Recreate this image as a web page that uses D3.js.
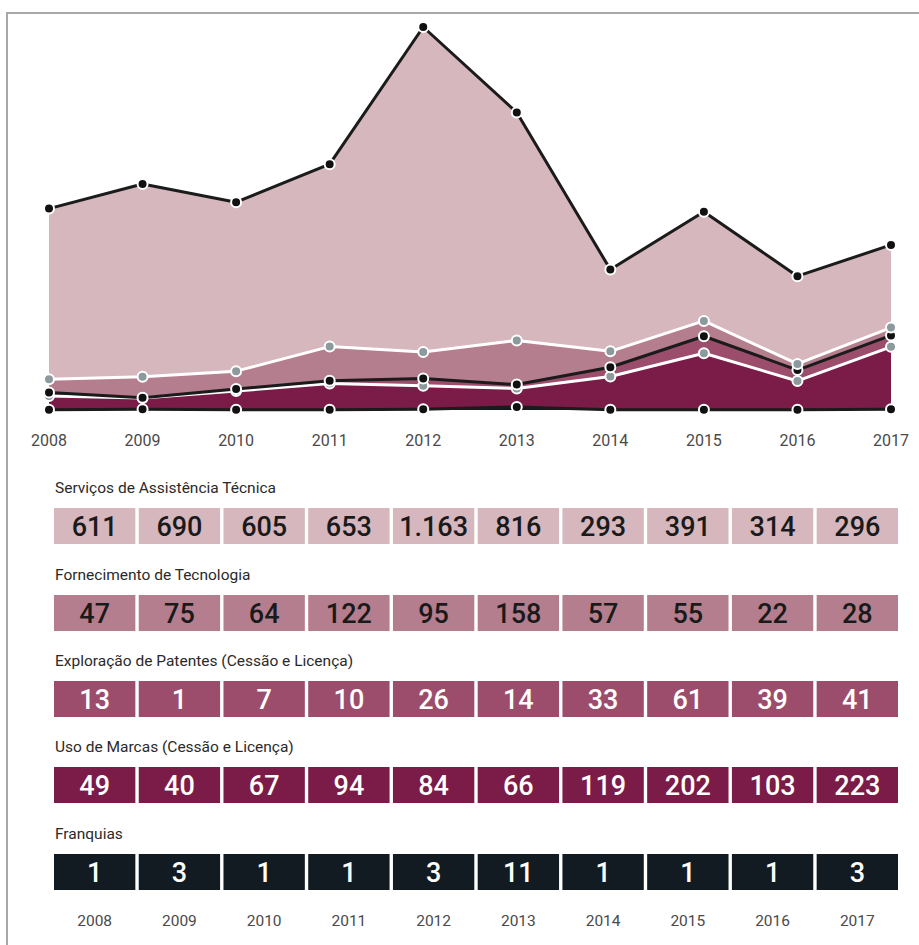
<!DOCTYPE html>
<html>
<head>
<meta charset="utf-8">
<script src="https://cdn.jsdelivr.net/npm/d3@7"></script>
<style>
  body { margin: 0; background: #fff; }
  svg { display: block; }
  text { font-family: Roboto, "DejaVu Sans", sans-serif; }
</style>
</head>
<body>
<script>
var width = 919,
    height = 945;

// data
var years = [2008, 2009, 2010, 2011, 2012, 2013, 2014, 2015, 2016, 2017];
var servicos     = [611, 690, 605, 653, 1163, 816, 293, 391, 314, 296];
var fornecimento = [47, 75, 64, 122, 95, 158, 57, 55, 22, 28];
var patentes     = [13, 1, 7, 10, 26, 14, 33, 61, 39, 41];
var marcas       = [49, 40, 67, 94, 84, 66, 119, 202, 103, 223];
var franquias    = [1, 3, 1, 1, 3, 11, 1, 1, 1, 3];

// bottom to top in the stack
var series = [
    { key: "franquias",    label: "Franquias",                                values: franquias,    fill: "#121b22", line: "#1b1b1b", dot: "#111", txt: "#fff" },
    { key: "marcas",       label: "Uso de Marcas (Cessão e Licença)",         values: marcas,       fill: "#7b1b47", line: "#fff",    dot: "#8c9a9d", txt: "#fff" },
    { key: "patentes",     label: "Exploração de Patentes (Cessão e Licença)", values: patentes,    fill: "#9b4d6b", line: "#1b1b1b", dot: "#111", txt: "#fff" },
    { key: "fornecimento", label: "Fornecimento de Tecnologia",               values: fornecimento, fill: "#b57e8e", line: "#fff",    dot: "#8c9a9d", txt: "#1a1a1a" },
    { key: "servicos",     label: "Serviços de Assistência Técnica",          values: servicos,     fill: "#d5b7bd", line: "#1b1b1b", dot: "#111", txt: "#1a1a1a" }
];

var rows = years.map(function (y, i) {
    var r = { year: y };
    series.forEach(function (s) { r[s.key] = s.values[i]; });
    return r;
});

var stack = d3.stack().keys(series.map(function (s) { return s.key; }));
var layers = stack(rows);

var svg = d3.select("body").append("svg")
    .attr("width", width)
    .attr("height", height);

// frame
svg.append("path")
    .attr("d", "M7,945V13H919")
    .style("fill", "none")
    .style("stroke", "#a8a8a8")
    .style("stroke-width", 2);

var x = d3.scalePoint().domain(years).range([49, 891]);
var y = d3.scaleLinear()
    .domain([0, d3.max(layers[layers.length - 1], function (d) { return d[1]; })])
    .range([410, 27]);

var area = d3.area()
    .x(function (d) { return x(d.data.year); })
    .y0(function (d) { return y(d[0]); })
    .y1(function (d) { return y(d[1]); });

var line = d3.line()
    .x(function (d) { return x(d.data.year); })
    .y(function (d) { return y(d[1]); });

svg.selectAll(".layer")
    .data(layers)
    .enter().append("path")
    .attr("class", "layer")
    .attr("d", area)
    .style("fill", function (d, i) { return series[i].fill; });

layers.forEach(function (layer, i) {
    var s = series[i];
    svg.append("path")
        .attr("d", line(layer))
        .style("fill", "none")
        .style("stroke", s.line)
        .style("stroke-width", 3)
        .style("stroke-linejoin", "round");
    svg.selectAll(".dot-" + s.key)
        .data(layer)
        .enter().append("circle")
        .attr("class", "dot-" + s.key)
        .attr("cx", function (d) { return x(d.data.year); })
        .attr("cy", function (d) { return y(d[1]); })
        .attr("r", 5)
        .style("fill", s.dot)
        .style("stroke", "#fff")
        .style("stroke-width", 2);
});

// top axis labels
svg.selectAll(".year-top")
    .data(years)
    .enter().append("text")
    .attr("class", "year-top")
    .attr("x", function (d) { return x(d); })
    .attr("y", 446)
    .attr("text-anchor", "middle")
    .style("font-size", "16px")
    .style("fill", "#4a4a4a")
    .text(function (d) { return d; });

// table
var band = d3.scaleBand().domain(years).range([54, 898]).paddingInner(0.04);
var rowTops = [508, 595, 681, 767, 854];
var tableOrder = series.slice().reverse();

tableOrder.forEach(function (s, r) {
    var top = rowTops[r];
    svg.append("text")
        .attr("x", 55)
        .attr("y", top - 15)
        .style("font-size", "15.5px")
        .style("fill", "#2a2a2a")
        .text(s.label);

    var g = svg.append("g");
    g.selectAll("rect")
        .data(s.values)
        .enter().append("rect")
        .attr("x", function (d, i) { return band(years[i]); })
        .attr("y", top)
        .attr("width", band.bandwidth())
        .attr("height", 36)
        .style("fill", s.fill);
    g.selectAll("text")
        .data(s.values)
        .enter().append("text")
        .attr("x", function (d, i) { return band(years[i]) + band.bandwidth() / 2; })
        .attr("y", top + 28)
        .attr("text-anchor", "middle")
        .style("font-size", "27px")
        .style("font-weight", 500)
        .style("fill", s.txt)
        .text(function (d) { return d3.format(",")(d).replace(",", "."); });
});

svg.selectAll(".year-bottom")
    .data(years)
    .enter().append("text")
    .attr("class", "year-bottom")
    .attr("x", function (d) { return band(d) + band.bandwidth() / 2; })
    .attr("y", 926)
    .attr("text-anchor", "middle")
    .style("font-size", "15.5px")
    .style("fill", "#4a4a4a")
    .text(function (d) { return d; });
</script>
</body>
</html>
